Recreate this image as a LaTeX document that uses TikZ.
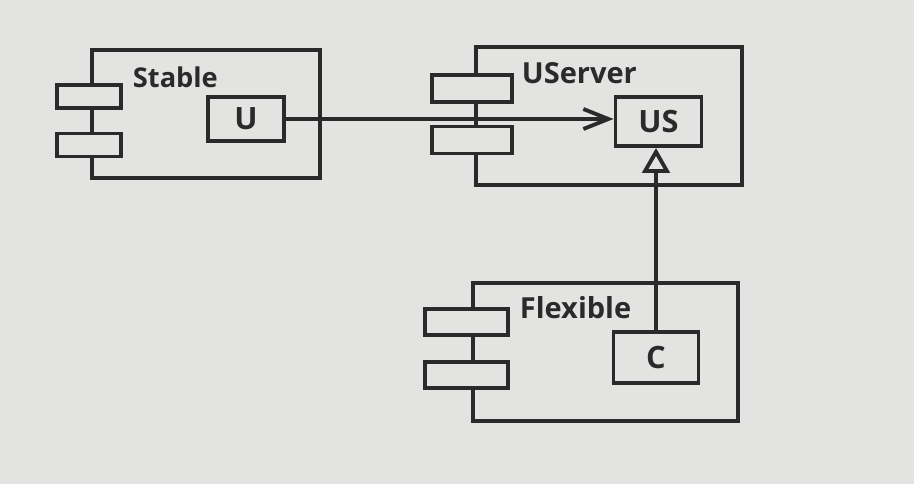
\documentclass[tikz,border=0pt]{standalone}
\usepackage{fontspec}
\setmainfont{Open Sans}
\usetikzlibrary{arrows.meta, positioning}
\definecolor{paper}{HTML}{E3E3E1}
\definecolor{ink}{HTML}{2A2A2A}

\begin{document}
\begin{tikzpicture}[
    x=0.02cm, y=-0.02cm,
    line width=2.2pt,
    comp/.style={
        rectangle,
        draw=ink,
        inner sep=0pt
    },
    tab/.style={
        rectangle,
        draw=ink,
        fill=paper,
        minimum width=1.6cm,
        minimum height=0.52cm,
        inner sep=0pt
    },
    part/.style={
        rectangle,
        draw=ink,
        fill=paper,
        text=ink,
        minimum width=1.72cm,
        minimum height=0.98cm,
        font=\fontsize{17.5}{20}\selectfont\bfseries,
        inner sep=0pt
    },
    title/.style={
        anchor=west,
        text=ink,
        font=\fontsize{16.5}{20}\selectfont\bfseries,
        inner sep=0pt
    },
    dep/.style={
        -{Straight Barb[length=5mm, width=4mm, line width=2.2pt]},
        draw=ink
    },
    gen/.style={
        -{Triangle[open, fill=paper, length=5mm, width=5.5mm, line width=2.2pt]},
        draw=ink
    }
]
    \fill[paper] (0,0) rectangle (914,484);
    \useasboundingbox (0,0) rectangle (914,484);

    % Stable
    \node [comp, minimum width=4.56cm, minimum height=2.56cm] (stable) at (206,114) {};
    \node [tab, minimum width=1.28cm, minimum height=0.46cm] (stabletab1) at (89,96.5) {};
    \node [tab, minimum width=1.28cm, minimum height=0.46cm] (stabletab2) at (89,145) {};
    \node [title, font=\fontsize{15.5}{18}\selectfont\bfseries] (stablename) at (131,77) {Stable};
    \node [part, minimum width=1.52cm, minimum height=0.88cm] (U) at (246,119) {U};

    % UServer
    \node [comp, minimum width=5.32cm, minimum height=2.76cm] (userver) at (609,116) {};
    \node [tab, minimum height=0.54cm] (usertab1) at (472,88.5) {};
    \node [tab, minimum height=0.54cm] (usertab2) at (472,140) {};
    \node [title] (usename) at (520,73) {UServer};
    \node [part] (US) at (658.5,121.5) {US};

    % Flexible
    \node [comp, minimum width=5.3cm, minimum height=2.76cm] (flexible) at (605.5,352) {};
    \node [tab, minimum width=1.66cm] (flextab1) at (466.5,322) {};
    \node [tab, minimum width=1.66cm] (flextab2) at (466.5,375) {};
    \node [title] (flexname) at (518,308) {Flexible};
    \node [part, minimum width=1.7cm, minimum height=1.02cm] (C) at (656,357.5) {C};

    \draw [dep] (U.east) -- (U.east -| US.west);
    \draw [gen] (C.north) -- (C.north |- US.south);
\end{tikzpicture}
\end{document}
